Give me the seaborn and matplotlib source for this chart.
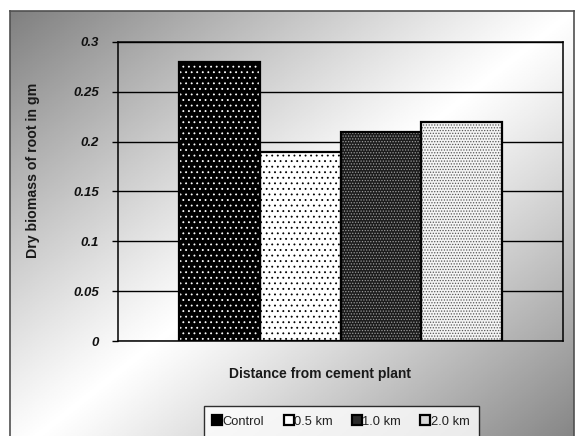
import numpy as np
import pandas as pd
import matplotlib
matplotlib.use("Agg")
import matplotlib.pyplot as plt
from matplotlib.patches import Rectangle
from matplotlib.lines import Line2D
import seaborn as sns

# Root dry biomass at increasing distance from the cement plant
distances = ["Control", "0.5 km", "1.0 km", "2.0 km"]
biomass = [0.28, 0.19, 0.21, 0.22]
y_ticks = [0, 0.05, 0.1, 0.15, 0.2, 0.25, 0.3]

# Fill styles per series: face colour, dot colour, hatch density
face_colors = ["#000000", "#ffffff", "#1c1c1c", "#f4f4f4"]
dot_colors = ["#ffffff", "#000000", "#9a9a9a", "#555555"]
hatches = ["...", "...", "......", "......"]
legend_faces = ["#000000", "#ffffff", "#2a2a2a", "#d8d8d8"]

sns.set_theme(style="white")
plt.rcParams["font.family"] = ["Liberation Sans", "DejaVu Sans"]
plt.rcParams["hatch.linewidth"] = 0.6

W, H = 577, 436
fig = plt.figure(figsize=(W / 100, H / 100), dpi=100)
fig.patch.set_facecolor("white")

# Framed background with a diagonal grey-white-grey gradient
bg = fig.add_axes([10 / W, -0.05, 564 / W, (H - 11) / H + 0.05], zorder=-10)
u = np.linspace(0, 1, 300)
v = np.linspace(0, 1, 300)
U, V = np.meshgrid(u, v)
shade = 1 - 0.5 * np.abs(U + V - 1) ** 1.1
bg.imshow(shade, cmap="gray", vmin=0, vmax=1, extent=(0, 1, 0, 1),
          aspect="auto", interpolation="bilinear", origin="upper")
bg.set_xticks([])
bg.set_yticks([])
for s in bg.spines.values():
    s.set_color("#505050")
    s.set_linewidth(1.2)

ax = fig.add_axes([118 / W, 1 - 341 / H, (563 - 118) / W, (341 - 42) / H])
ax.set_facecolor("none")

df = pd.DataFrame({"group": [""] * len(distances),
                   "distance": distances,
                   "biomass": biomass})
sns.barplot(data=df, x="group", y="biomass", hue="distance",
            hue_order=distances, palette=face_colors, width=0.728, gap=0,
            legend=False, ax=ax, saturation=1)

bars = [p for p in ax.patches]
for p, dc, h in zip(bars, dot_colors, hatches):
    p.set_hatch(h)
    p.set_edgecolor(dc)
    p.set_linewidth(0)
    p.set_zorder(2)
    ax.add_patch(Rectangle(p.get_xy(), p.get_width(), p.get_height(),
                           fill=False, edgecolor="black", linewidth=1.6,
                           zorder=3))

ax.set_xlim(-0.5, 0.5)
ax.set_ylim(0, 0.3)
ax.set_yticks(y_ticks)
ax.set_yticklabels([f"{t:g}" for t in y_ticks])
for lbl in ax.get_yticklabels():
    lbl.set_fontweight("bold")
    lbl.set_fontstyle("italic")
    lbl.set_fontsize(9.5)
    lbl.set_color("#111111")
ax.tick_params(axis="y", direction="out", length=4.5, width=1,
               color="black", pad=9, left=True)
ax.tick_params(axis="x", bottom=False, labelbottom=False)
ax.yaxis.grid(True, color="black", linewidth=1)
ax.set_axisbelow(True)
for s in ax.spines.values():
    s.set_color("black")
    s.set_linewidth(1.1)

ax.set_xlabel("Distance from cement plant", fontsize=10, fontweight="bold",
              color="#1a1a1a")
ax.xaxis.set_label_coords((320 - 118) / 445, (341 - 367) / 299)
ax.set_ylabel("Dry biomass of root in gm", fontsize=10.2, fontweight="bold",
              color="#1a1a1a")
ax.yaxis.set_label_coords((40 - 118) / 445, (341 - 170) / 299)

handles = [Line2D([], [], linestyle="none", marker="s", markersize=7,
                  markerfacecolor=fc, markeredgecolor="black",
                  markeredgewidth=1.6)
           for fc in legend_faces]
leg = fig.legend(handles, distances, ncol=4, loc="upper center",
                 bbox_to_anchor=(341.5 / W, 1 - 406 / H),
                 frameon=True, fancybox=False, fontsize=9.3,
                 handlelength=0.6, handletextpad=0.1, columnspacing=1.6,
                 borderpad=0.75, borderaxespad=0)
leg.get_frame().set_edgecolor("black")
leg.get_frame().set_linewidth(1)
leg.get_frame().set_facecolor("white")
for t in leg.get_texts():
    t.set_color("#222222")

fig.savefig("out.png", dpi=100)
